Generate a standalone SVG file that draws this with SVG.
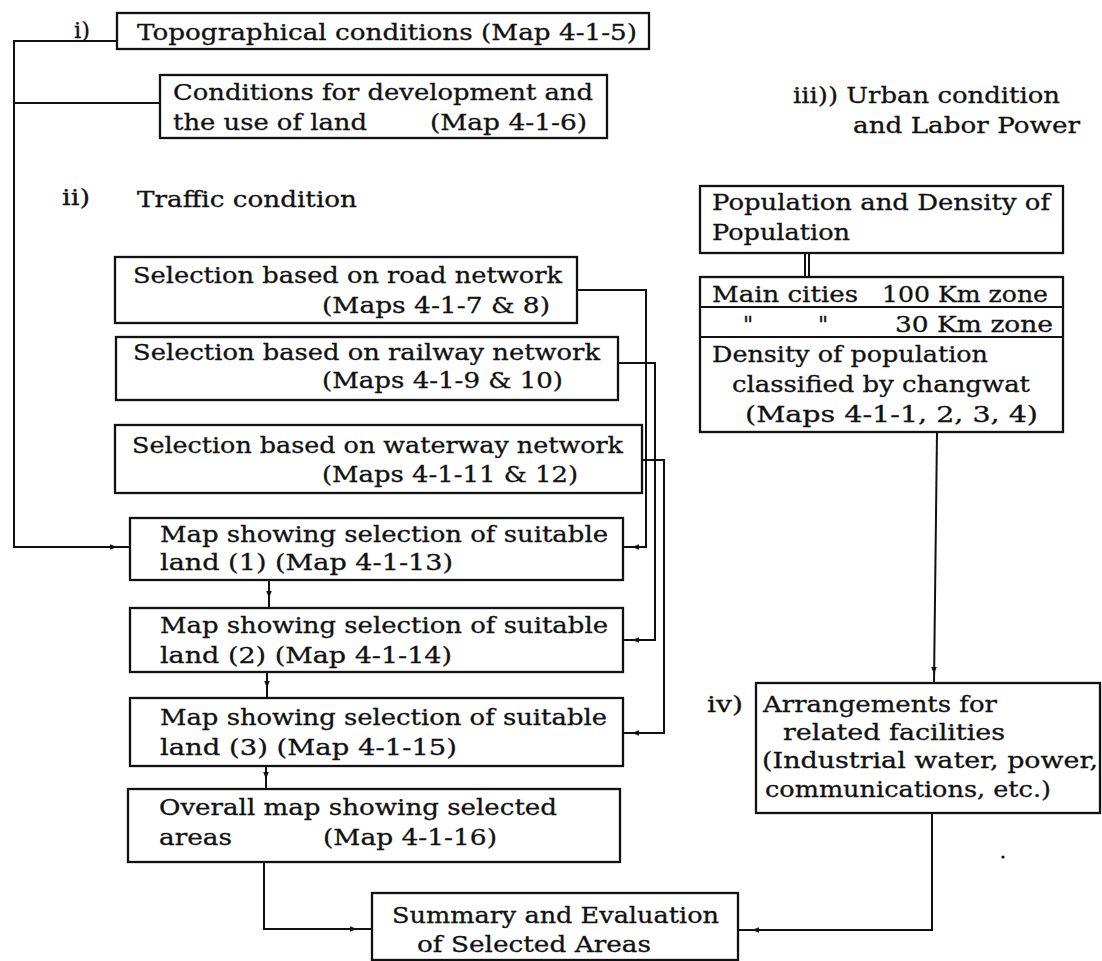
<svg xmlns="http://www.w3.org/2000/svg" width="1102" height="961" viewBox="0 0 1102 961">
<style>
  .box { fill: #fff; stroke: #111; stroke-width: 2.3; }
  .ln { fill: none; stroke: #111; stroke-width: 2; }
  .tip { fill: none; stroke: none; }
  text { font-family: "DejaVu Serif", "Liberation Serif", serif; font-size: 22px; fill: #111; stroke: #111; stroke-width: 0.3; }
</style>
<defs>
  <marker id="ah" viewBox="0 0 10 10" refX="10" refY="5" markerWidth="8" markerHeight="7" orient="auto" markerUnits="userSpaceOnUse">
    <path d="M0,1 L10,5 L0,9 z" fill="#111"/>
  </marker>
</defs>
<rect width="1102" height="961" fill="#fff"/>

<g id="connectors">
  <polyline class="ln" points="117,41 14,41 14,547 130,547"/>
  <path class="tip" d="M100,547 L117,547" marker-end="url(#ah)"/>
  <line class="ln" x1="160" y1="103" x2="14" y2="103"/>
  <polyline class="ln" points="577,290 646,290 646,547 623,547"/>
  <path class="tip" d="M646,547 L632,547" marker-end="url(#ah)"/>
  <polyline class="ln" points="618,363 655,363 655,640 623,640"/>
  <path class="tip" d="M655,640 L632,640" marker-end="url(#ah)"/>
  <polyline class="ln" points="642,460 664,460 664,733 623,733"/>
  <path class="tip" d="M664,733 L632,733" marker-end="url(#ah)"/>
  <line class="ln" x1="269" y1="580" x2="269" y2="608"/>
  <path class="tip" d="M269,585 L269,598" marker-end="url(#ah)"/>
  <line class="ln" x1="267" y1="672" x2="267" y2="698"/>
  <path class="tip" d="M267,677 L267,688" marker-end="url(#ah)"/>
  <line class="ln" x1="266" y1="766" x2="266" y2="789"/>
  <path class="tip" d="M266,770 L266,779" marker-end="url(#ah)"/>
  <polyline class="ln" points="264,862 264,929 372,929"/>
  <path class="tip" d="M340,929 L357,929" marker-end="url(#ah)"/>
  <polyline class="ln" points="932,813 932,930 738,930"/>
  <path class="tip" d="M770,930 L752,930" marker-end="url(#ah)"/>
  <line class="ln" x1="937" y1="432" x2="934" y2="683"/>
  <path class="tip" d="M934,660 L934,674" marker-end="url(#ah)"/>
  <line class="ln" x1="805" y1="253" x2="805" y2="277" stroke-width="1.6"/>
  <line class="ln" x1="809" y1="253" x2="809" y2="277" stroke-width="1.6"/>
</g>

<g id="label-i"><text x="74" y="38" textLength="16" lengthAdjust="spacingAndGlyphs">i)</text></g>
<g id="label-ii">
  <text x="62" y="205" textLength="28" lengthAdjust="spacingAndGlyphs">ii)</text>
  <text x="137" y="207" textLength="220" lengthAdjust="spacingAndGlyphs">Traffic condition</text>
</g>
<g id="label-iii">
  <text x="793" y="103" textLength="267" lengthAdjust="spacingAndGlyphs">iii)) Urban condition</text>
  <text x="853" y="133" textLength="227" lengthAdjust="spacingAndGlyphs">and Labor Power</text>
</g>
<g id="label-iv"><text x="707" y="712" textLength="36" lengthAdjust="spacingAndGlyphs">iv)</text></g>

<g id="topo">
  <rect class="box" x="117" y="13" width="532" height="36"/>
  <text x="137" y="40" textLength="500" lengthAdjust="spacingAndGlyphs">Topographical conditions (Map 4-1-5)</text>
</g>
<g id="conditions">
  <rect class="box" x="160" y="75" width="447" height="63"/>
  <text x="173" y="100" textLength="420" lengthAdjust="spacingAndGlyphs">Conditions for development and</text>
  <text x="173" y="130" textLength="194" lengthAdjust="spacingAndGlyphs">the use of land</text>
  <text x="430" y="130" textLength="157" lengthAdjust="spacingAndGlyphs">(Map 4-1-6)</text>
</g>
<g id="road">
  <rect class="box" x="115" y="257" width="462" height="66"/>
  <text x="133" y="283" textLength="429" lengthAdjust="spacingAndGlyphs">Selection based on road network</text>
  <text x="322" y="313" textLength="228" lengthAdjust="spacingAndGlyphs">(Maps 4-1-7 &amp; 8)</text>
</g>
<g id="railway">
  <rect class="box" x="116" y="337" width="502" height="63"/>
  <text x="133" y="360" textLength="467" lengthAdjust="spacingAndGlyphs">Selection based on railway network</text>
  <text x="322" y="388" textLength="241" lengthAdjust="spacingAndGlyphs">(Maps 4-1-9 &amp; 10)</text>
</g>
<g id="waterway">
  <rect class="box" x="115" y="425" width="527" height="68"/>
  <text x="132" y="453" textLength="491" lengthAdjust="spacingAndGlyphs">Selection based on waterway network</text>
  <text x="322" y="482" textLength="256" lengthAdjust="spacingAndGlyphs">(Maps 4-1-11 &amp; 12)</text>
</g>
<g id="map1">
  <rect class="box" x="130" y="518" width="493" height="62"/>
  <text x="160" y="542" textLength="448" lengthAdjust="spacingAndGlyphs">Map showing selection of suitable</text>
  <text x="160" y="570" textLength="293" lengthAdjust="spacingAndGlyphs">land (1)  (Map 4-1-13)</text>
</g>
<g id="map2">
  <rect class="box" x="130" y="608" width="493" height="64"/>
  <text x="160" y="633" textLength="448" lengthAdjust="spacingAndGlyphs">Map showing selection of suitable</text>
  <text x="160" y="663" textLength="292" lengthAdjust="spacingAndGlyphs">land (2)  (Map 4-1-14)</text>
</g>
<g id="map3">
  <rect class="box" x="130" y="698" width="493" height="68"/>
  <text x="160" y="725" textLength="447" lengthAdjust="spacingAndGlyphs">Map showing selection of suitable</text>
  <text x="160" y="755" textLength="297" lengthAdjust="spacingAndGlyphs">land (3)   (Map 4-1-15)</text>
</g>
<g id="overall">
  <rect class="box" x="128" y="789" width="492" height="73"/>
  <text x="159" y="815" textLength="398" lengthAdjust="spacingAndGlyphs">Overall map showing selected</text>
  <text x="159" y="845" textLength="73" lengthAdjust="spacingAndGlyphs">areas</text>
  <text x="323" y="845" textLength="174" lengthAdjust="spacingAndGlyphs">(Map 4-1-16)</text>
</g>
<g id="summary">
  <rect class="box" x="372" y="893" width="366" height="67"/>
  <text x="392" y="923" textLength="327" lengthAdjust="spacingAndGlyphs">Summary and Evaluation</text>
  <text x="417" y="952" textLength="234" lengthAdjust="spacingAndGlyphs">of Selected Areas</text>
</g>
<g id="population">
  <rect class="box" x="700" y="186" width="363" height="67"/>
  <text x="712" y="210" textLength="338" lengthAdjust="spacingAndGlyphs">Population and Density of</text>
  <text x="712" y="240" textLength="138" lengthAdjust="spacingAndGlyphs">Population</text>
</g>
<g id="cities">
  <rect class="box" x="700" y="277" width="363" height="155"/>
  <line class="ln" x1="700" y1="307" x2="1063" y2="307"/>
  <line class="ln" x1="700" y1="337" x2="1063" y2="337"/>
  <text x="712" y="302" textLength="146" lengthAdjust="spacingAndGlyphs">Main cities</text>
  <text x="882" y="302" textLength="166" lengthAdjust="spacingAndGlyphs">100 Km zone</text>
  <text x="743" y="332">"</text>
  <text x="818" y="332">"</text>
  <text x="895" y="332" textLength="158" lengthAdjust="spacingAndGlyphs">30 Km zone</text>
  <text x="712" y="362" textLength="276" lengthAdjust="spacingAndGlyphs">Density of population</text>
  <text x="732" y="392" textLength="298" lengthAdjust="spacingAndGlyphs">classified by changwat</text>
  <text x="745" y="422" textLength="293" lengthAdjust="spacingAndGlyphs">(Maps 4-1-1, 2, 3, 4)</text>
</g>
<g id="arrangements">
  <rect class="box" x="756" y="683" width="344" height="130"/>
  <text x="763" y="712" textLength="234" lengthAdjust="spacingAndGlyphs">Arrangements for</text>
  <text x="783" y="740" textLength="222" lengthAdjust="spacingAndGlyphs">related facilities</text>
  <text x="762" y="768" textLength="336" lengthAdjust="spacingAndGlyphs">(Industrial water, power,</text>
  <text x="765" y="797" textLength="286" lengthAdjust="spacingAndGlyphs">communications, etc.)</text>
</g>
<g id="specks">
  <circle cx="1003" cy="857" r="1.6" fill="#111"/>
</g>
</svg>
